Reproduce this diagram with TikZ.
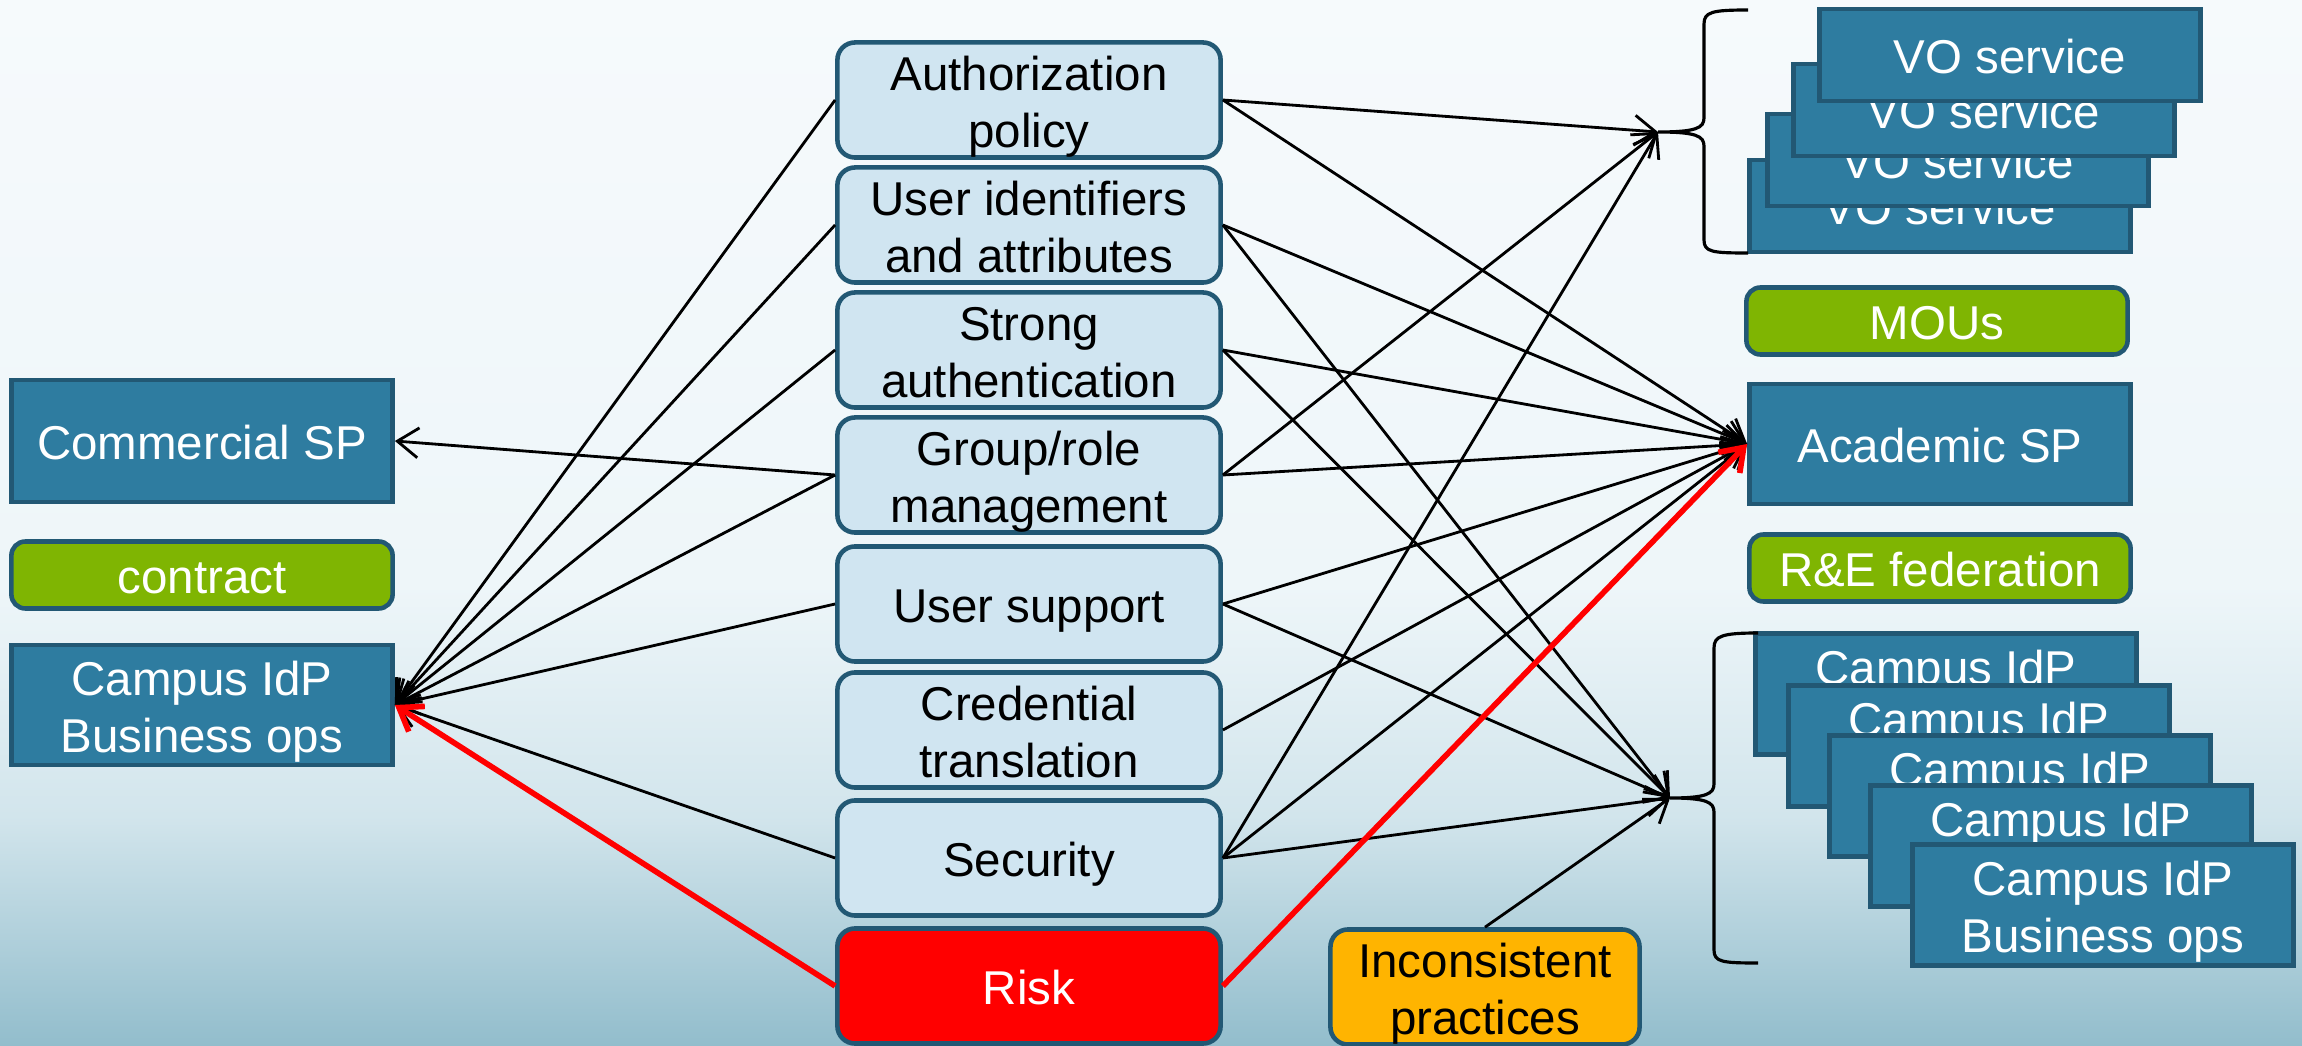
\documentclass[tikz,border=0pt]{standalone}
\usepackage{fontspec}
\setmainfont{Liberation Sans}
\usetikzlibrary{arrows.meta, positioning}

\definecolor{boxblue}{RGB}{46,124,160}
\definecolor{boxedge}{RGB}{34,88,116}
\definecolor{paleblue}{RGB}{208,229,241}
\definecolor{leafgreen}{RGB}{127,181,2}
\definecolor{amber}{RGB}{255,180,0}
\definecolor{bgtop}{RGB}{246,250,252}
\definecolor{bgmid}{RGB}{238,246,249}
\definecolor{bglow}{RGB}{210,229,236}
\definecolor{bgbot}{RGB}{146,189,204}

\pgfdeclareverticalshading{slidebg}{100bp}{color(0bp)=(bgbot); color(25bp)=(bgbot); color(36bp)=(bglow); color(47bp)=(bgmid); color(75bp)=(bgtop); color(100bp)=(bgtop)}

\newcommand{\slidefont}{\fontsize{13.5}{16.4}\selectfont}

\begin{document}
\begin{tikzpicture}[x=0.01cm, y=-0.01cm,
    oneline/.style={text height=10.7pt, text depth=0pt},
    twoline/.style={text height=27.2pt, text depth=0pt},
    sqbox/.style={draw=boxedge, line width=1.3pt, fill=boxblue, text=white, minimum width=3.81cm, minimum height=1.2cm, align=center, inner sep=0pt, font=\slidefont, oneline},
    rbox/.style={draw=boxedge, line width=1.3pt, rounded corners=5pt, fill=paleblue, minimum width=3.83cm, minimum height=1.15cm, align=center, inner sep=0pt, font=\slidefont, twoline},
    greenbox/.style={draw=boxedge, line width=1.3pt, rounded corners=4pt, fill=leafgreen, text=white, minimum width=3.81cm, minimum height=0.67cm, inner sep=0pt, font=\slidefont, oneline},
    link/.style={-{Straight Barb[length=6pt,width=8.5pt]}, line width=0.8pt},
    risklink/.style={link, draw=red, line width=1.6pt},
    bracepen/.style={line width=0.9pt}]
    %\draw [step=100] (0,0) grid (2302,1046);

    % background
    \useasboundingbox (0,0) rectangle (2302,1046);
    \shade[shading=slidebg] (0,0) rectangle (2302,1046);

    % left column
    \node[sqbox, minimum height=1.22cm] (comsp) at (202,441) {Commercial SP};
    \node[greenbox] (contract) at (202,575) {contract};
    \node[sqbox, twoline] (idpbiz) at (202,705) {Campus IdP\\Business ops};

    % middle column
    \node[rbox] (authz) at (1029,100) {Authorization\\policy};
    \node[rbox] (ident) at (1029,225) {User identifiers\\and attributes};
    \node[rbox] (strong) at (1029,350) {Strong\\authentication};
    \node[rbox] (group) at (1029,475) {Group/role\\management};
    \node[rbox, oneline] (support) at (1029,604) {User support};
    \node[rbox] (cred) at (1029,730) {Credential\\translation};
    \node[rbox, oneline] (secur) at (1029,858) {Security};
    \node[rbox, oneline, fill=red, text=white] (risk) at (1029,986) {Risk};

    % right column
    \node[sqbox, minimum height=0.92cm] (vo4) at (1940,206) {VO service};
    \node[sqbox, minimum height=0.92cm] (vo3) at (1958,160) {VO service};
    \node[sqbox, minimum height=0.92cm] (vo2) at (1984,110) {VO service};
    \node[sqbox, minimum height=0.92cm] (vo1) at (2010,55) {VO service};

    \node[greenbox] (mous) at (1937,321) {MOUs};
    \node[sqbox] (acadsp) at (1940,444) {Academic SP};
    \node[greenbox] (refed) at (1940,568) {R\&E federation};

    \node[sqbox, twoline, minimum height=1.21cm] (idp1) at (1946,694) {Campus IdP\\\phantom{Business ops}};
    \node[sqbox, twoline, minimum height=1.21cm] (idp2) at (1979,746) {Campus IdP\\\phantom{Business ops}};
    \node[sqbox, twoline, minimum height=1.21cm] (idp3) at (2020,796) {Campus IdP\\\phantom{Business ops}};
    \node[sqbox, twoline, minimum height=1.21cm] (idp4) at (2061,846) {Campus IdP\\\phantom{Business ops}};
    \node[sqbox, twoline, minimum height=1.21cm] (idp5) at (2103,905) {Campus IdP\\Business ops};

    \node[rbox, fill=amber, minimum width=3.09cm] (incons) at (1485,987) {Inconsistent\\practices};

    % braces
    \coordinate (votip) at (1658,132);
    \coordinate (idptip) at (1670,798);
    \draw[bracepen] (1748,10) .. controls (1712,10) and (1704,12) .. (1704,24) -- (1704,118)
        .. controls (1704,128) and (1696,132) .. (votip)
        .. controls (1696,132) and (1704,136) .. (1704,146) -- (1704,240)
        .. controls (1704,252) and (1712,253) .. (1748,253);
    \draw[bracepen] (1758,633) .. controls (1722,633) and (1714,636) .. (1714,648) -- (1714,784)
        .. controls (1714,794) and (1706,798) .. (idptip)
        .. controls (1706,798) and (1714,802) .. (1714,812) -- (1714,950)
        .. controls (1714,962) and (1722,963) .. (1758,963);

    % links to the left
    \draw[link] (authz.west) -- (idpbiz.east);
    \draw[link] (ident.west) -- (idpbiz.east);
    \draw[link] (strong.west) -- (idpbiz.east);
    \draw[link] (group.west) -- (idpbiz.east);
    \draw[link] (group.west) -- (comsp.east);
    \draw[link] (support.west) -- (idpbiz.east);
    \draw[link] (secur.west) -- (idpbiz.east);
    \draw[risklink] (risk.west) -- (idpbiz.east);

    % links to the right
    \draw[link] (authz.east) -- (votip);
    \draw[link] (authz.east) -- (acadsp.west);
    \draw[link] (ident.east) -- (acadsp.west);
    \draw[link] (ident.east) -- (idptip);
    \draw[link] (strong.east) -- (acadsp.west);
    \draw[link] (strong.east) -- (idptip);
    \draw[link] (group.east) -- (votip);
    \draw[link] (group.east) -- (acadsp.west);
    \draw[link] (support.east) -- (acadsp.west);
    \draw[link] (support.east) -- (idptip);
    \draw[link] (cred.east) -- (acadsp.west);
    \draw[link] (secur.east) -- (votip);
    \draw[link] (secur.east) -- (acadsp.west);
    \draw[link] (secur.east) -- (idptip);
    \draw[risklink] (risk.east) -- (acadsp.west);
    \draw[link] (incons.north) -- (idptip);
\end{tikzpicture}
\end{document}
